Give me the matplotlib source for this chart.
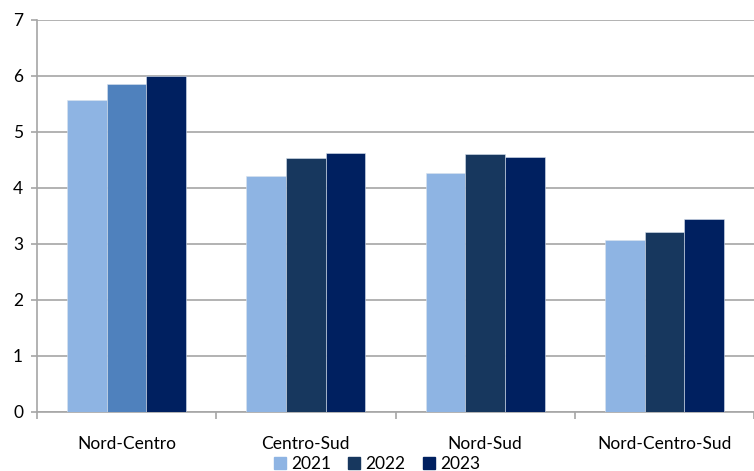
import matplotlib
matplotlib.use("Agg")
import matplotlib.pyplot as plt
from matplotlib.patches import Patch
import numpy as np

plt.rcParams['font.family'] = ['Lato', 'DejaVu Sans']

categories = ["Nord-Centro", "Centro-Sud", "Nord-Sud", "Nord-Centro-Sud"]
years = ["2021", "2022", "2023"]
v2021 = [5.57, 4.21, 4.27, 3.07]
v2022 = [5.86, 4.54, 4.61, 3.21]
v2023 = [6.00, 4.62, 4.55, 3.45]

c2021 = "#8EB4E3"
c2022 = "#17375E"
c2022_first = "#4F81BD"
c2023 = "#002060"

fig = plt.figure(figsize=(7.54, 4.71), dpi=100)
ax = fig.add_axes([37/754, 59/471, 717/754, (412-20)/471])

x = np.arange(len(categories))
w = 0.221
ax.bar(x - w, v2021, w, color=c2021, edgecolor="#D9E2EE", linewidth=0.4, zorder=3)
cols22 = [c2022_first] + [c2022] * (len(categories) - 1)
ax.bar(x, v2022, w, color=cols22, edgecolor="#D9E2EE", linewidth=0.4, zorder=3)
ax.bar(x + w, v2023, w, color=c2023, edgecolor="#D9E2EE", linewidth=0.4, zorder=3)

ax.set_xlim(-0.5, -0.5 + 717/181)
ax.set_ylim(0, 7)
ax.set_yticks(range(0, 8))
ax.yaxis.grid(True, color="#A6A6A6", linewidth=1.2, zorder=0)
ax.set_axisbelow(True)

ax.set_xticks(x)
ax.set_xticklabels(categories)
ax.set_xticks(np.arange(-0.5, 3.6, 1.0), minor=True)
ax.tick_params(axis="x", which="major", length=0, pad=17, labelsize=12.5)
ax.tick_params(axis="x", which="minor", length=5, color="#A6A6A6", width=1.2)
ax.tick_params(axis="y", length=4, color="#A6A6A6", width=1.2, labelsize=12.5, pad=6)

for s in ["top", "right"]:
    ax.spines[s].set_visible(False)
for s in ["left", "bottom"]:
    ax.spines[s].set_color("#A6A6A6")
    ax.spines[s].set_linewidth(1.2)

handles = [Patch(color=c2021), Patch(color=c2022), Patch(color=c2023)]
fig.legend(handles, years, loc="center", bbox_to_anchor=(0.5, 1 - 464/471),
           ncol=3, frameon=False, fontsize=12.5, handlelength=0.7, handleheight=0.7,
           handletextpad=0.3, columnspacing=1.0, borderaxespad=0)

fig.savefig("out.png", dpi=100)
